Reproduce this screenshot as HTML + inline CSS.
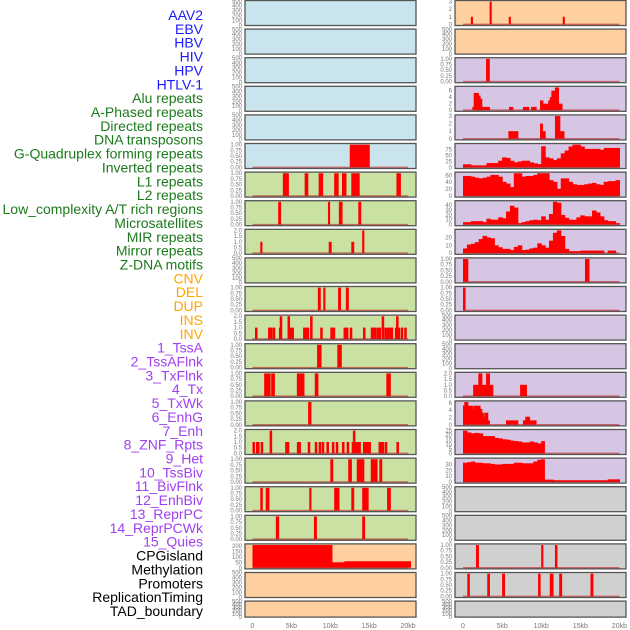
<!DOCTYPE html>
<html><head><meta charset="utf-8">
<style>
html,body{margin:0;padding:0;background:#fff;}
svg{display:block;font-family:"Liberation Sans",sans-serif;}
</style></head>
<body>
<svg id="chart" width="630" height="630" viewBox="0 0 630 630" xmlns="http://www.w3.org/2000/svg"></svg>
<script>
// ---------- labels ----------
const trackLabels = ["AAV2","EBV","HBV","HIV","HPV","HTLV-1","Alu repeats","A-Phased repeats","Directed repeats","DNA transposons","G-Quadruplex forming repeats","Inverted repeats","L1 repeats","L2 repeats","Low_complexity A/T rich regions","Microsatellites","MIR repeats","Mirror repeats","Z-DNA motifs","CNV","DEL","DUP","INS","INV","1_TssA","2_TssAFlnk","3_TxFlnk","4_Tx","5_TxWk","6_EnhG","7_Enh","8_ZNF_Rpts","9_Het","10_TssBiv","11_BivFlnk","12_EnhBiv","13_ReprPC","14_ReprPCWk","15_Quies","CPGisland","Methylation","Promoters","ReplicationTiming","TAD_boundary"];
const labelGroups = [6,13,5,15,5];
const xTickValues = [0,5,10,15,20];
const xTickLabels = ["0","5kb","10kb","15kb","20kb"];
const emptyTicks = [0,100,200,300,400,500];
const binaryTicks = [0,0.25,0.5,0.75,1.0];
const twoTicks = [0,0.5,1.0,1.5,2.0];

// ---------- data (segments: [startKb, endKb, value]) ----------
const htlv1Bars = [[12.5,15,1]];
const aluBars = [[3.9,4.6,1],[6.7,7.1,1],[8.5,9.0,1],[10.5,11.0,1],[11.5,12.0,1],[12.7,13.7,1],[18.5,19.0,1]];
const aphasedBars = [[3.3,3.6,1],[9.7,9.9,1],[11.1,11.5,1],[13.6,13.9,1]];
const directedBars = [[1.0,1.2,1],[9.8,10.1,1],[12.7,13.0,1],[14.1,14.3,2]];
const gquadBars = [[8.4,8.7,1],[9.1,9.3,1],[11.0,11.3,1],[12.0,12.3,1]];
const invertedPos = [0.32,2.0,2.25,2.6,3.4,3.5,4.5,4.7,5.0,6.5,6.75,6.95,7.4,8.7,10.0,10.3,11.7,12.0,12.5,14.2,15.2,15.45,15.65,16.0,16.2,16.6,16.95,17.25,17.55,17.75,18.3,18.45,18.65,19.05,19.5];
const invertedVals = [1,1,1,1,1,2,2,1,1,1,1,1,2,1,1,1,1,1,1,1,1,1,1,1,1,2,1,1,1,1,1,2,1,1,1];
const l1Bars = [[8.3,8.8,1],[10.9,11.4,1]];
const l2Bars = [[1.5,2.25,1],[2.4,2.8,1],[5.7,6.6,1],[8.0,8.4,1],[17.2,17.7,1]];
const lowCompBars = [[7.15,7.5,1]];
const microPos = [0.0,0.45,0.58,1.05,2.2,4.2,4.4,5.7,5.9,7.1,8.0,8.5,8.9,9.5,10.2,10.7,11.5,12.1,12.75,12.9,13.1,13.4,13.6,14.2,14.4,14.7,14.9,16.2,16.4,16.6,17.0,18.5];
const microVals = [1,1,1,1,2,1,1,1,1,1,1,1,1,1,1,1,1,1,1,2,1,1,1,1,1,1,1,1,1,1,1,1];
const mirBars = [[10.0,10.3,1],[12.3,12.7,1],[13.4,14.3,1],[15.2,16.0,1],[16.3,16.6,1]];
const mirrorBars = [[1.0,1.25,1],[1.7,2.1,1],[7.3,7.5,1],[10.5,11.1,1],[12.7,13.0,1],[14.1,14.85,1],[17.3,17.7,1]];
const zdnaBars = [[3.0,3.35,1],[7.9,8.2,1],[14.1,14.4,1]];
const cnvBars = [[0,10.2,210],[10.2,11.8,50],[11.8,20.3,60]];
const insPos = [1.0,3.4,5.85,12.75];
const insVals = [1,3,1,1];
const tssaBars = [[2.95,3.35,1]];
const tssaflnkBars = [[1.2,1.37,1],[1.37,1.96,5.3],[1.96,2.17,4.5],[2.17,2.39,3.5],[2.39,3.37,1],[5.88,6.35,1],[7.67,8.4,1],[8.7,9.33,1],[9.85,10.2,3],[10.2,10.9,2],[10.9,11.1,3],[11.1,11.3,4],[11.3,11.76,6],[11.76,12.2,7],[12.2,12.65,2]];
const txflnkBars = [[5.8,7.0,1],[9.85,10.15,2],[10.15,10.5,1],[11.76,12.37,3],[12.37,12.9,1]];
// histograms: 0.5kb bins starting at 0kb
const txBins = [13,13,8.5,8.5,8.5,8.5,18,18,18,28,42,40,28,21,25,28,28,21,17,14,89,42,38,31,38,59,71,88,96,96,88,78,78,78,78,74,82,82,82,82];
const txwkBins = [58,58,56,53,51,53,56,61,61,56,41,36,26,66,66,56,58,58,61,66,66,66,46,41,21,51,51,41,34,32,32,34,36,38,34,32,41,43,43,46];
const enhgBins = [5,5,7,7,7,5,12,10,10,15,13,27,39,35,3,5,7,9,10,9,17,10,22,47,45,20,14,10,10,15,19,17,17,29,25,17,9,7,7,3];
const enhBins = [6,11,12,14,18,22,20,19,10,7.5,5.5,5.5,4,8,10,4,4.5,6,7,12.5,10,7,16,26,29,22,5.5,2.5,2.5,2.5,3.3,3.3,3.3,3.3,3.3,3.3,0,3.3,3.3,0];
const znfBars = [[0,0.6,1],[15.6,16.1,1]];
const hetBars = [[0,0.25,1]];
const enhbivBars = [[1.3,1.96,1],[1.96,2.4,2],[2.4,2.95,1],[2.95,3.37,2],[3.37,3.8,1],[7.3,8.1,1]];
const reprpcBars = [[0,0.17,5.3],[0.17,0.6,6.2],[0.6,1.2,5.2],[1.2,1.32,4.2],[1.32,2.17,5.2],[2.17,2.39,4.3],[2.39,2.6,3.3],[2.6,2.73,2.2],[2.73,3.15,3.3],[3.15,3.37,1.2],[5.5,7.0,1.2],[7.67,7.97,1.2],[7.97,8.5,2.2],[8.5,9.33,1.2]];
const reprpcwkBins = [25,23,22,22.5,22,19,19,19,17,16.5,15.5,15,14,13.5,13,12,12,13,12,11,13.5];
const quiesBins = [33,34,35,33,33,32,32,31,30,30,31,31,31,33,33,32,32,32,35,38,39];
const quiesTail = [[10.4,11.5,4],[11.5,18.5,3],[18.5,20,4.5]];
const promoterBars = [[1.66,1.96,1],[10.0,10.2,1],[11.76,12.0,1]];
const replBars = [[0.55,0.8,1],[3.1,3.37,1],[5.0,5.3,1],[9.6,9.85,1],[11.1,11.5,1],[12.3,12.6,1],[16.3,16.6,1]];

// ---------- build helpers ----------
function pts(pos, vals, w){ return pos.map((p,i)=>[p,p+w,vals[i]]); }
function bins(vals, w, start){ return vals.map((v,i)=>[start+i*w, start+(i+1)*w, v]); }

const BLUE='#c9e4ec', GREEN='#c9e1a3', ORANGE='#ffd09f', PURPLE='#d6c5e3', GREY='#d0d0d0';
const panels = [
 {n:'aav2',bg:BLUE},{n:'ebv',bg:BLUE},{n:'hbv',bg:BLUE},{n:'hiv',bg:BLUE},{n:'hpv',bg:BLUE},
 {n:'htlv-1',bg:BLUE,seg:htlv1Bars,max:1,ticks:binaryTicks,fmt:2},
 {n:'alu-repeats',bg:GREEN,seg:aluBars,max:1,ticks:binaryTicks,fmt:2},
 {n:'a-phased-repeats',bg:GREEN,seg:aphasedBars,max:1,ticks:binaryTicks,fmt:2},
 {n:'directed-repeats',bg:GREEN,seg:directedBars,max:2,ticks:twoTicks,fmt:1},
 {n:'dna-transposons',bg:GREEN},
 {n:'g-quadruplex',bg:GREEN,seg:gquadBars,max:1,ticks:binaryTicks,fmt:2},
 {n:'inverted-repeats',bg:GREEN,seg:pts(invertedPos,invertedVals,0.25),max:2,ticks:twoTicks,fmt:1},
 {n:'l1-repeats',bg:GREEN,seg:l1Bars,max:1,ticks:binaryTicks,fmt:2},
 {n:'l2-repeats',bg:GREEN,seg:l2Bars,max:1,ticks:binaryTicks,fmt:2},
 {n:'low-complexity',bg:GREEN,seg:lowCompBars,max:1,ticks:binaryTicks,fmt:2},
 {n:'microsatellites',bg:GREEN,seg:pts(microPos,microVals,0.25),max:2,ticks:twoTicks,fmt:1},
 {n:'mir-repeats',bg:GREEN,seg:mirBars,max:1,ticks:binaryTicks,fmt:2},
 {n:'mirror-repeats',bg:GREEN,seg:mirrorBars,max:1,ticks:binaryTicks,fmt:2},
 {n:'z-dna-motifs',bg:GREEN,seg:zdnaBars,max:1,ticks:binaryTicks,fmt:2},
 {n:'cnv',bg:ORANGE,seg:cnvBars,max:210,ticks:[0,50,100,150,200],fmt:0},
 {n:'del',bg:ORANGE},{n:'dup',bg:ORANGE},
 {n:'ins',bg:ORANGE,seg:pts(insPos,insVals,0.2),max:3,ticks:[0,1,2,3],fmt:0},
 {n:'inv',bg:ORANGE},
 {n:'1-tssa',bg:PURPLE,seg:tssaBars,max:1,ticks:binaryTicks,fmt:2},
 {n:'2-tssaflnk',bg:PURPLE,seg:tssaflnkBars,max:7,ticks:[0,2,4,6],fmt:0},
 {n:'3-txflnk',bg:PURPLE,seg:txflnkBars,max:3,ticks:[0,1,2,3],fmt:0},
 {n:'4-tx',bg:PURPLE,seg:bins(txBins,0.5,0),max:96,ticks:[0,25,50,75],fmt:0},
 {n:'5-txwk',bg:PURPLE,seg:bins(txwkBins,0.5,0),max:66,ticks:[0,20,40,60],fmt:0},
 {n:'6-enhg',bg:PURPLE,seg:bins(enhgBins,0.5,0),max:47,ticks:[0,10,20,30,40],fmt:0},
 {n:'7-enh',bg:PURPLE,seg:bins(enhBins,0.5,0),max:29,ticks:[0,10,20],fmt:0},
 {n:'8-znf-rpts',bg:PURPLE,seg:znfBars,max:1,ticks:binaryTicks,fmt:2},
 {n:'9-het',bg:PURPLE,seg:hetBars,max:1,ticks:binaryTicks,fmt:2},
 {n:'10-tssbiv',bg:PURPLE},{n:'11-bivflnk',bg:PURPLE},
 {n:'12-enhbiv',bg:PURPLE,seg:enhbivBars,max:2,ticks:twoTicks,fmt:1},
 {n:'13-reprpc',bg:PURPLE,seg:reprpcBars,max:6.2,ticks:[0,2,4,6],fmt:0},
 {n:'14-reprpcwk',bg:PURPLE,seg:bins(reprpcwkBins,0.5,0).map((s,i,a)=>i===a.length-1?[s[0],10.4,s[2]]:s),max:25,ticks:[0,5,10,15,20,25],fmt:0},
 {n:'15-quies',bg:PURPLE,seg:bins(quiesBins,0.5,0).map((s,i,a)=>i===a.length-1?[s[0],10.4,s[2]]:s).concat(quiesTail),max:39,ticks:[0,10,20,30],fmt:0},
 {n:'cpgisland',bg:GREY},{n:'methylation',bg:GREY},
 {n:'promoters',bg:GREY,seg:promoterBars,max:1,ticks:binaryTicks,fmt:2},
 {n:'replication-timing',bg:GREY,seg:replBars,max:1,ticks:binaryTicks,fmt:2},
 {n:'tad-boundary',bg:GREY}
];

const NS='http://www.w3.org/2000/svg';
const svg=document.getElementById('chart');
function mk(tag, attrs, parent){
  const e=document.createElementNS(NS,tag);
  for(const k in attrs) e.setAttribute(k,attrs[k]);
  (parent||svg).appendChild(e); return e;
}

// labels
const labelColors=['#1a1aff','#1c7a1c','#ffa500','#a040f0','#000000'];
let gi=0, cnt=0;
trackLabels.forEach((t,i)=>{
  while(cnt>=labelGroups[gi]){gi++;cnt=0;}
  cnt++;
  const el=mk('text',{x:203,y:20+i*13.86,'text-anchor':'end','font-size':'14',fill:labelColors[gi]});
  
  
  el.textContent=t;
});

function xScale(col, kb){ return col===0 ? 252.5+kb*7.78 : 463+kb*7.82; }

panels.forEach((p,idx)=>{
  const col = idx<22?0:1, row = idx%22;
  const x0 = col===0?245:455, w=171;
  const top = 0.5+row*28.6, h = row===21?16:25;
  const g=mk('g',{});
  
  
  mk('rect',{x:x0,y:top,width:w,height:h,fill:p.bg},g);
  let lo,hi,ticks,fmt;
  if(!p.seg){ lo=-5; hi=505; ticks=emptyTicks; fmt=0; }
  else { lo=-0.05*p.max; hi=1.05*p.max; ticks=p.ticks; fmt=p.fmt; }
  const y=v=> top+h-(v-lo)/(hi-lo)*h;
  if(p.seg){
    p.seg.forEach((s,si)=>{
      const xa=xScale(col,s[0]), xb=xScale(col,s[1]);
      const r=mk('rect',{x:xa,y:y(s[2]),width:Math.max(1.6,xb-xa+0.6),height:y(0)-y(s[2]),fill:'#ff0000'},g);
      
      
    });
    const bl=mk('line',{x1:xScale(col,0),x2:xScale(col,20),y1:y(0),y2:y(0),stroke:'rgba(190,30,30,0.6)','stroke-width':1.5},g);
    
    
  }
  mk('rect',{x:x0,y:top,width:w,height:h,fill:'none',stroke:'#555','stroke-width':1.3},g);
  ticks.forEach(t=>{
    const tl=mk('text',{x:x0-3,y:y(t)+2,'text-anchor':'end','font-size':'6',fill:'#777'},g);
    
    
    tl.textContent=t.toFixed(fmt);
  });
});

// x axis ticks
[0,1].forEach(col=>{
  xTickValues.forEach((v,i)=>{
    const t=mk('text',{x:xScale(col,v),y:628,'text-anchor':'middle','font-size':'7',fill:'#777'});
    
    
    t.textContent=xTickLabels[i];
  });
});
</script>
</body></html>
